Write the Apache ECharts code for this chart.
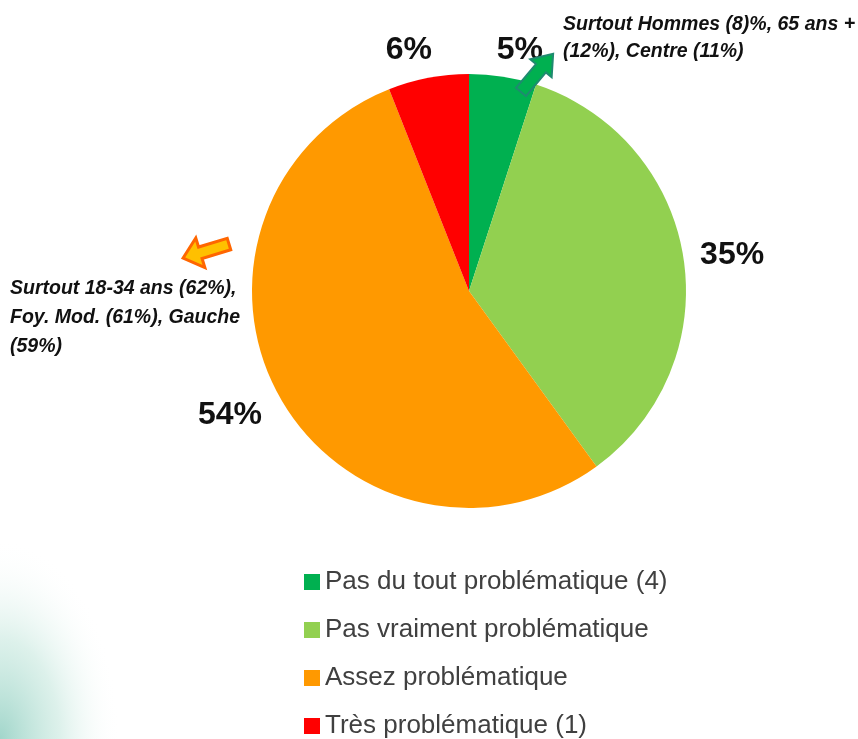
<!DOCTYPE html>
<html>
<head>
<meta charset="utf-8">
<script src="https://cdn.jsdelivr.net/npm/echarts@6/dist/echarts.min.js"></script>
<style>
  html, body { margin: 0; padding: 0; background: #fff; }
  #chart { width: 858px; height: 739px; }
</style>
</head>
<body>
<div id="chart"></div>
<script>
// Données du camembert (sens horaire depuis midi)
var categories = ['Pas du tout problématique (4)', 'Pas vraiment problématique', 'Assez problématique', 'Très problématique (1)'];
var values = [5, 35, 54, 6];
var colors = ['#00B050', '#92D050', '#FF9900', '#FF0000'];

// Commentaires
var noteGreen = 'Surtout Hommes (8)%, 65 ans +\n(12%), Centre (11%)';
var noteOrange = 'Surtout 18-34 ans (62%),\nFoy. Mod. (61%), Gauche\n(59%)';

var SANS = "'Liberation Sans', Arial, sans-serif";

// petits décalages des étiquettes % (dx, dy) par part
var labelNudge = [[-14, -9], [-6, 1], [4, 11], [12, -10]];

// flèche pointant vers +x, longueur L, tige w, tête hw x hl
function arrowPoints(L, w, hw, hl) {
  return [[0, -w / 2], [L - hl, -w / 2], [L - hl, -hw / 2], [L, 0], [L - hl, hw / 2], [L - hl, w / 2], [0, w / 2]];
}

var chart = echarts.init(document.getElementById('chart'));

var pieData = categories.map(function(c, i) {
  return { name: c, value: values[i], itemStyle: { color: colors[i] } };
});

chart.setOption({
  animation: false,
  backgroundColor: '#fff',
  legend: {
    orient: 'vertical',
    left: 299,
    top: 564,
    height: 200,
    itemWidth: 16,
    itemHeight: 16,
    itemGap: 22,
    icon: 'rect',
    textStyle: { fontFamily: SANS, fontSize: 26, color: '#404040', lineHeight: 26 },
    data: categories
  },
  graphic: [
    {
      type: 'rect', silent: true, z: -10,
      x: 0, y: 739, originX: 0, originY: 0, scaleX: 0.6,
      shape: { x: 0, y: -200, width: 200, height: 200 },
      style: {
        fill: new echarts.graphic.RadialGradient(0, 1, 1, [
          { offset: 0, color: 'rgba(130,200,185,0.75)' },
          { offset: 0.5, color: 'rgba(170,220,205,0.4)' },
          { offset: 1, color: 'rgba(255,255,255,0)' }
        ])
      }
    },
    {
      type: 'text', left: 563, top: 11,
      style: { text: noteGreen, font: 'italic bold 19.5px ' + SANS, fill: '#111', lineHeight: 27 }
    },
    {
      type: 'text', left: 10, top: 274,
      style: { text: noteOrange, font: 'italic bold 19.5px ' + SANS, fill: '#111', lineHeight: 29 }
    },
    {
      type: 'polygon', x: 521, y: 92, rotation: 50 * Math.PI / 180, z: 10,
      shape: { points: arrowPoints(50, 13, 28, 19) },
      style: { fill: '#00B050', stroke: '#1F8A70', lineWidth: 2 }
    },
    {
      type: 'polygon', x: 229, y: 244, rotation: 197 * Math.PI / 180, z: 10,
      shape: { points: arrowPoints(48, 12, 31, 18) },
      style: { fill: '#FFC000', stroke: '#FF6600', lineWidth: 3 }
    }
  ],
  series: [{
    type: 'pie',
    center: [469, 291],
    radius: 217,
    startAngle: 90,
    clockwise: true,
    avoidLabelOverlap: false,
    data: pieData,
    label: {
      show: true,
      position: 'outside',
      formatter: '{c}%',
      fontFamily: SANS,
      fontWeight: 'bold',
      fontSize: 32,
      color: '#111'
    },
    labelLine: { show: false, length: 18, length2: 0 },
    labelLayout: function(p) {
      var n = labelNudge[p.dataIndex];
      return { dx: n[0], dy: n[1] };
    },
    emphasis: { disabled: true }
  }]
});
</script>
</body>
</html>
